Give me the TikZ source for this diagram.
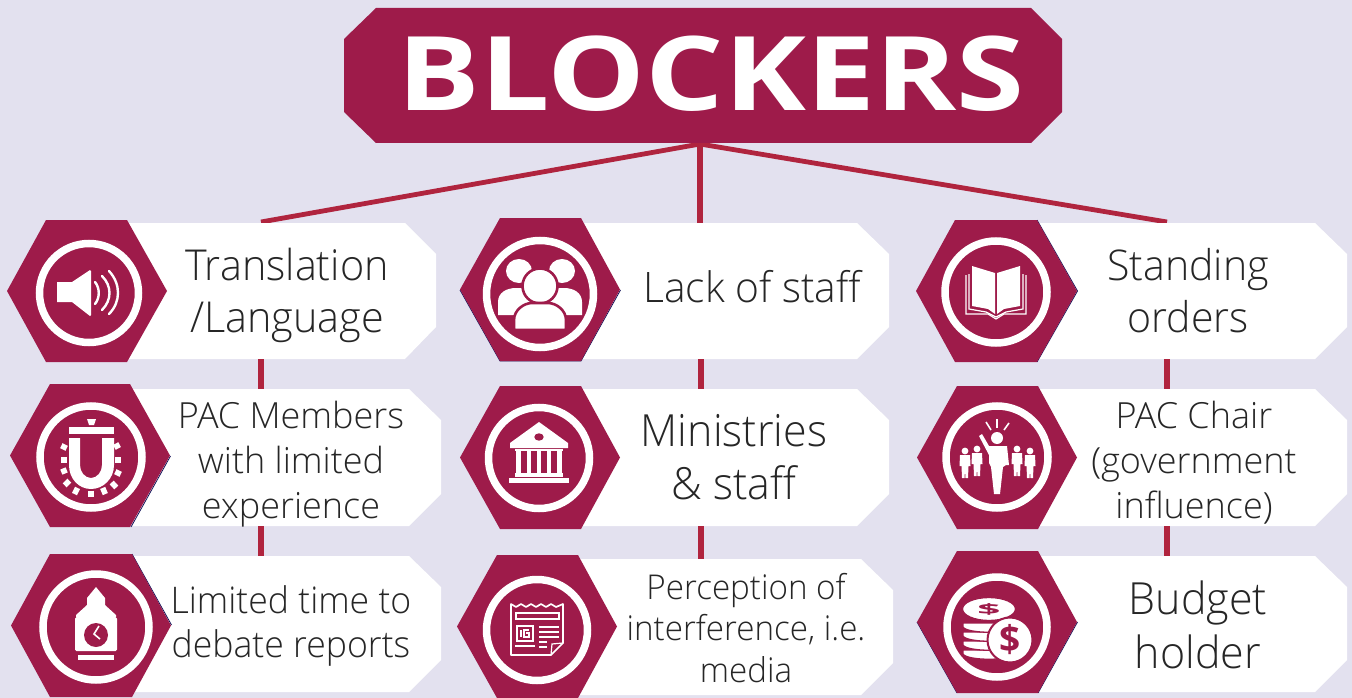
\documentclass[tikz,border=0pt]{standalone}
\usepackage{fontspec}
\usetikzlibrary{calc}
\setmainfont{Open Sans}
\newfontfamily\lightfont{Open Sans Light}
\newfontfamily\boldfont{Open Sans Bold}
\definecolor{bgc}{HTML}{E3E1EF}
\definecolor{crim}{HTML}{9E1B4A}
\definecolor{linec}{HTML}{B0243E}
\definecolor{txtc}{HTML}{262626}
\definecolor{navyc}{HTML}{14145A}
\tikzset{
  linkline/.style={draw=linec,line width=5.5pt},
  hublink/.style={draw=linec,line width=4.8pt},
  ring/.style={draw=white,line width=7.5pt},
  ico/.style={fill=white,draw=none},
  icoline/.style={draw=white,line width=2pt,fill=none},
  holder/.style={inner sep=0pt,outer sep=0pt,draw=none},
  sliver/.style={draw=navyc,line width=.8pt},
}
% \txt[xscale]{name}{x}{last baseline y}{size}{leading}{lines}
\newcommand\txt[7][1]{\node[holder,anchor=base,align=center,text=txtc,xscale=#1,font=\lightfont\fontsize{#5}{#6}\selectfont] (#2) at (#3,#4) {#7};}
\newcommand\hexa[7]{%
  \pgfmathsetmacro\hm{(#6+#7)/2}%
  \fill[crim] (#2,\hm) -- (#3,#6) -- (#4,#6) -- (#5,\hm) -- (#4,#7) -- (#3,#7) -- cycle;
}
\newcommand\whitebox[6]{%
  \pgfmathsetmacro\bw{#4-#2}\pgfmathsetmacro\bh{#6-#5}%
  \fill[white] (#2,#5) -- (#3,#5) -- (#4,#5+31) -- (#4,#6-32) -- (#3,#6) -- (#2,#6) -- cycle;
  \node[holder,minimum width=\bw pt,minimum height=\bh pt] (#1) at ({(#2+#4)/2},{(#5+#6)/2}) {};
}
\newcommand\smallp[2]{%
  \fill[white] (#1,#2) circle (3.4);
  \fill[white] ({#1-5},{#2+4}) -- ({#1+5},{#2+4}) -- ({#1+5.5},{#2+15}) -- ({#1+3.5},{#2+15}) -- ({#1+3},{#2+27}) -- ({#1+.5},{#2+27}) -- (#1,{#2+19}) -- ({#1-.5},{#2+27}) -- ({#1-3},{#2+27}) -- ({#1-3.5},{#2+15}) -- ({#1-5.5},{#2+15}) -- cycle;
}
\begin{document}
\begin{tikzpicture}[x=1pt,y=-1pt]
\useasboundingbox[fill=bgc] (0,0) rectangle (1352,698);
% junctions
\coordinate (hub) at (700,144);
\coordinate (j1) at (261,222);
\coordinate (j2) at (700,224);
\coordinate (j3) at (1167,222);
\draw[hublink] (hub) -- (j1);
\draw[linkline] (hub) -- (j2);
\draw[hublink] (hub) -- (j3);
% title
\fill[crim] (376,8) -- (1031,8) -- (1062,39) -- (1062,112) -- (1031,143) -- (376,143) -- (344,112) -- (344,39) -- cycle;
\node[holder,text=white,xscale=1.196,font=\boldfont\fontsize{103}{103}\selectfont,anchor=base] (title) at (711,111) {BLOCKERS};
% white boxes
\whitebox{b11}{127}{405}{436}{223}{359}
\whitebox{b21}{130}{409}{441}{389}{526}
\whitebox{b31}{132}{409}{441}{556}{692}
\whitebox{b12}{581}{857}{889}{223}{359}
\whitebox{b22}{581}{857}{889}{389}{526}
\whitebox{b32}{578}{861}{893}{559}{695}
\whitebox{b13}{1037}{1315}{1347}{223}{359}
\whitebox{b23}{1038}{1315}{1347}{389}{526}
\whitebox{b33}{1038}{1315}{1347}{556}{692}
% vertical connectors
\coordinate (v2) at (701,300);
\draw[linkline] (j1 |- b11.south) -- (j1 |- b21.north);
\draw[linkline] (j1 |- b21.south) -- (j1 |- b31.north);
\draw[linkline] (v2 |- b12.south) -- (v2 |- b22.north);
\draw[linkline] (v2 |- b22.south) -- (v2 |- b32.north);
\draw[linkline] (j3 |- b13.south) -- (j3 |- b23.north);
\draw[linkline] (j3 |- b23.south) -- (j3 |- b33.north);
% thin dark edges
\draw[sliver] (170.5,456) -- (131,527);
\draw[sliver] (132,554) -- (171.5,625);
\draw[sliver] (460,290) -- (500,361) -- (581,361) -- (620.5,290);
\draw[sliver] (1037,220) -- (1077.5,291) -- (1037,362);
\draw[sliver] (957,693) -- (917,622) (1077.5,622) -- (1038,693);
% hexagons
\hexa{h11}{7}{46}{127}{167}{220}{362}
\hexa{h21}{10}{50}{130}{170}{384}{527}
\hexa{h31}{11}{50}{132}{171}{554}{697}
\hexa{h12}{460}{500}{581}{620}{218}{361}
\hexa{h22}{460}{500}{581}{620}{386}{529}
\hexa{h32}{457}{497}{578}{617}{555}{698}
\hexa{h13}{916}{955}{1037}{1077}{220}{362}
\hexa{h23}{917}{957}{1038}{1077}{386}{529}
\hexa{h33}{917}{957}{1038}{1077}{551}{693}
% rings
\draw[ring] (89,293) circle (49.5);
\draw[ring] (91,457) circle (51);
\draw[ring] (96,627) circle (53);
\draw[ring] (540,294) circle (53.5);
\draw[ring] (539,458) circle (50.5);
\draw[ring] (537,630) circle (50.5);
\draw[ring] (996,292) circle (51);
\draw[ring] (997,457) circle (51);
\draw[ring] (997,627) circle (50);
% speaker
\begin{scope}[shift={(89,293)}]
\fill[ico] (-32,-11) -- (-17,-11) -- (1,-23) -- (2,-22) -- (2,22) -- (1,23) -- (-17,9) -- (-32,9) -- cycle;
\draw[icoline,line width=2.4pt,line cap=round] (6,-11) .. controls (11,-5) and (11,5) .. (6,11);
\draw[icoline,line width=2.4pt,line cap=round] (13,-17) .. controls (23,-7) and (23,7) .. (13,17);
\draw[icoline,line width=2.4pt,line cap=round] (20,-22) .. controls (32,-9) and (32,9) .. (20,21);
\end{scope}
% magnet
\begin{scope}[shift={(91,457)}]
\fill[ico] (-4,-38) -- (5,-38) -- (3,-32) -- (-2,-32) -- cycle;
\fill[ico] (-22,-30) rectangle (23,-23);
\fill[ico] (-22,-19) -- (-11,-19) -- (-11,8) .. controls (-11,15) and (-6,21) .. (0,21) .. controls (6,21) and (11,15) .. (11,8) -- (11,-19) -- (23,-19) -- (23,8) .. controls (23,22) and (12,32) .. (0,32) .. controls (-12,32) and (-22,22) .. (-22,8) -- cycle;
\foreach \x/\y in {-27/-10,-27/3,-27/14,-24/26,-15/34,0/37,13/34,23/28,27/16,27/3,26/-11}
  \draw[draw=white,line width=5.5pt] ($(0,3)!0.9!(\x,\y)$) -- ($(0,3)!1.1!(\x,\y)$);
\end{scope}
% clock tower
\begin{scope}[shift={(96,627)}]
\fill[ico] (0,-40) -- (-9,-29) -- (-9,-22) -- (-20,-12) -- (-20,-10) -- (20,-10) -- (20,-12) -- (9,-22) -- (9,-29) -- cycle;
\fill[ico,rounded corners=1.5pt] (-21,-10) rectangle (21,24);
\fill[ico] (-18,28) rectangle (18,33);
\fill[crim] (0,8) circle (12);
\draw[white,line width=1.6pt] (3,-1) -- (-2,7) -- (4,12);
\end{scope}
% people
\begin{scope}[shift={(540,294)}]
\fill[ico] (-21,-23) ellipse (13 and 12);
\fill[ico] (22,-23) ellipse (13 and 12);
\fill[ico] (-42,21) -- (-42,8) .. controls (-42,-1) and (-34,-6) .. (-24,-6) -- (-8,-6) -- (-8,21) -- cycle;
\fill[ico] (42,21) -- (42,8) .. controls (42,-1) and (34,-6) .. (24,-6) -- (8,-6) -- (8,21) -- cycle;
\filldraw[fill=white,draw=crim,line width=2.6pt] (0,-8) circle (17.5);
\filldraw[fill=white,draw=crim,line width=2.6pt] (-26,36) -- (-26,26) .. controls (-26,16) and (-16,9) .. (-8,9) -- (8,9) .. controls (16,9) and (26,16) .. (26,26) -- (26,36) -- cycle;
\end{scope}
% bank
\begin{scope}[shift={(539,458)}]
\fill[ico] (0,-36) -- (29,-15) -- (29,-10) -- (-29,-10) -- (-29,-15) -- cycle;
\fill[crim] (0,-21) ellipse (4.7 and 3.7);
\fill[ico] (-24,-9) rectangle (24,-7);
\foreach \a/\b in {-23/-18,-12.5/-8,-2.5/2,7.5/12,18/23}
  \fill[ico] (\a,-7) rectangle (\b,15);
\fill[ico] (-24,15) rectangle (24,19);
\fill[ico] (-30,20) rectangle (30,25);
\end{scope}
% newspaper
\begin{scope}[shift={(537,630)}]
\draw[draw=white,line width=1.7pt,fill=none,line join=round] (-26,-26) -- (-21,-23) -- (-16,-26) -- (-11,-23) -- (-6,-26) -- (-1,-23) -- (4,-26) -- (9,-23) -- (14,-26) -- (19,-23) -- (26,-26) -- (26,13) -- (14,25) -- (-26,25) -- cycle;
\draw[icoline,line width=1.2pt] (14,25) -- (15,14) -- (26,13);
\draw[icoline,line width=1.4pt] (-21,-17) rectangle (22,-11);
\draw[icoline,line width=1.6pt] (-20,-4) rectangle (-4,11);
\draw[icoline,line width=1.2pt] (-16,0) -- (-16,7);
\draw[icoline,line width=1.2pt] (-8,0) -- (-13,0) -- (-13,7) -- (-8,7) -- (-8,3) -- (-11,3);
\foreach \y in {-3,2,7} \draw[icoline,line width=1.6pt] (2,\y) -- (22,\y);
\draw[icoline,line width=1.6pt] (-22,16) -- (-2,16);
\draw[icoline,line width=1.6pt] (2,12) -- (10,12);
\draw[icoline,line width=1.6pt] (2,17) -- (10,17);
\end{scope}
% book
\begin{scope}[shift={(996,292)}]
\fill[ico] (-24,-26) -- (-1,-19) -- (-1,22) -- (-8,17) -- (-24,14) -- cycle;
\fill[ico] (24,-26) -- (1,-19) -- (1,22) -- (8,17) -- (24,14) -- cycle;
\draw[icoline,line width=1.2pt] (-27,-18) -- (-27,17) -- (-10,20) -- (0,25) -- (10,20) -- (27,17) -- (27,-18);
\draw[icoline,line width=1.2pt] (-30,-17) -- (-30,22) -- (-8,22) -- (0,27) -- (8,22) -- (30,22) -- (30,-17);
\end{scope}
% leader
\begin{scope}[shift={(997,457)}]
\fill[ico] (0,-19) circle (6);
\fill[ico] (-18,-21) -- (-15,-23) -- (-8,-11) -- (10,-11) -- (12,8) -- (9,8) -- (6,10) -- (3,37) -- (-3,37) -- (-6,10) -- (-8,6) -- (-8,-2) -- cycle;
\draw[draw=white,line width=1.6pt] (-11,-35) -- (-6,-27);
\draw[draw=white,line width=1.6pt] (0,-38) -- (0,-29);
\draw[draw=white,line width=1.6pt] (12,-34) -- (7,-27);
\smallp{-32}{-6}
\smallp{-20}{-8}
\smallp{20}{-8}
\smallp{33}{-6}
\end{scope}
% coins
\begin{scope}[shift={(997,627)}]
\foreach \y in {23,14,5,-4} {
  \filldraw[fill=white,draw=crim,line width=1.3pt] (-34,\y) -- (-34,{\y+4}) .. controls (-30,{\y+11}) and (14,{\y+11}) .. (18,{\y+4}) -- (18,\y) -- cycle;
}
\filldraw[fill=white,draw=crim,line width=1.3pt] (-8,-18) ellipse (26.5 and 11.5);
\node[holder,text=crim,font=\boldfont\fontsize{30}{30}\selectfont,yscale=.48,xscale=1.35] (d1) at (-8,-18) {\$};
\filldraw[fill=white,draw=crim,line width=2pt] (13,13) circle (22.5);
\node[holder,text=crim,font=\boldfont\fontsize{37}{37}\selectfont] (d2) at (13,13) {\$};
\end{scope}
% labels
\txt[.97]{t11}{287}{332}{42.6}{52}{Translation\\/Language}
\txt{t21}{291}{518}{36}{45}{PAC Members\\with limited\\experience}
\txt[.97]{t31}{291}{657}{36.7}{44}{Limited time to\\debate reports}
\txt[.97]{t12}{752}{302}{42}{51}{Lack of staff}
\txt[.97]{t22}{734}{499}{44.3}{53}{Ministries\\\& staff}
\txt[.97]{t32}{746}{682}{34.2}{41.5}{Perception of\\interference, i.e.\\media}
\txt[.97]{t13}{1188}{332}{42.3}{52}{Standing\\orders}
\txt{t23}{1194}{518}{36}{45}{PAC Chair\\(government\\influence)}
\txt[.97]{t33}{1198}{668}{44.3}{54}{Budget\\holder}
\end{tikzpicture}
\end{document}
